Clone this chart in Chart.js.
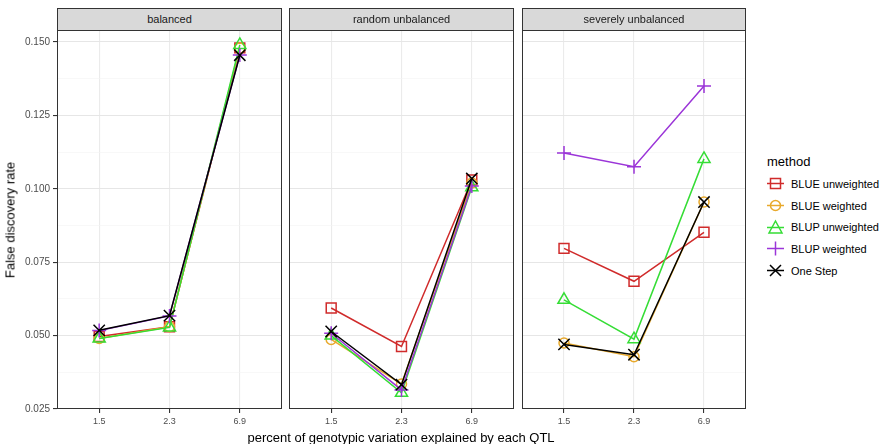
<!DOCTYPE html>
<html>
<head>
<meta charset="utf-8">
<script src="https://cdn.jsdelivr.net/npm/chart.js@4"></script>
<style>
  body { margin: 0; background: #fff; font-family: "Liberation Sans", Arial, sans-serif; }
  #wrap { position: relative; width: 888px; height: 444px; overflow: hidden; background: #fff; }
  canvas { position: absolute; top: 0; }
  .strip { position: absolute; top: 8px; height: 21px; background: #d9d9d9; border: 1px solid #333;
           font-size: 11px; color: #1a1a1a; text-align: center; line-height: 21px; box-sizing: content-box; }
  .ytitle { position: absolute; left: 10px; top: 220px; transform: translate(-50%, -50%) rotate(-90deg);
            font-size: 13px; color: #000; white-space: nowrap; }
  .xtitle { position: absolute; left: 401px; top: 437px; transform: translate(-50%, -50%);
            font-size: 13px; color: #000; white-space: nowrap; }
  #legend { position: absolute; left: 767px; top: 154px; }
  #legend .head { font-size: 13px; margin-bottom: 4px; }
  #legend .item { display: flex; align-items: center; height: 21.7px; font-size: 11px; color: #000; }
  #legend svg { margin-right: 7px; }
</style>
</head>
<body>
<div id="wrap">
  <canvas id="p0"></canvas>
  <canvas id="p1"></canvas>
  <canvas id="p2"></canvas>
  <div class="ytitle">False discovery rate</div>
  <div class="xtitle">percent of genotypic variation explained by each QTL</div>
  <div id="legend"><div class="head">method</div></div>
</div>
<script>
// Datos
const levels = ['1.5', '2.3', '6.9'];
const panels = ['balanced', 'random unbalanced', 'severely unbalanced'];
const methods = ['BLUE unweighted', 'BLUE weighted', 'BLUP unweighted', 'BLUP weighted', 'One Step'];

// un array por método: [balanced, random unbalanced, severely unbalanced]
const blueUnweighted = [[0.0497, 0.0530, 0.1480], [0.0594, 0.0463, 0.1030], [0.0797, 0.0685, 0.0852]];
const blueWeighted   = [[0.0490, 0.0530, 0.1480], [0.0487, 0.0335, 0.1020], [0.0475, 0.0428, 0.0955]];
const blupUnweighted = [[0.0490, 0.0528, 0.1490], [0.0500, 0.0305, 0.1005], [0.0622, 0.0488, 0.1102]];
const blupWeighted   = [[0.0517, 0.0567, 0.1456], [0.0508, 0.0315, 0.1010], [0.1122, 0.1075, 0.1350]];
const oneStep        = [[0.0518, 0.0568, 0.1455], [0.0514, 0.0333, 0.1035], [0.0470, 0.0435, 0.0955]];

const yTicks = [0.025, 0.0375, 0.05, 0.0625, 0.075, 0.0875, 0.1, 0.1125, 0.125, 0.1375, 0.15];

const series = [blueUnweighted, blueWeighted, blupUnweighted, blupWeighted, oneStep];
const colors = ['#d02b2b', '#e8a92c', '#35dd35', '#9b35d8', '#000000'];
const shapes = ['rect', 'circle', 'triangle', 'cross', 'crossRot'];
const radii = [7, 5, 7, 7, 8];

// Geometría de los paneles (canvas y área de trazado)
const layout = [
    { left: 0,   width: 286, plotLeft: 57,  plotRight: 282 },
    { left: 286, width: 232, plotLeft: 289, plotRight: 514 },
    { left: 518, width: 232, plotLeft: 522, plotRight: 746 }
];
const PLOT_TOP = 30, PLOT_BOTTOM = 409, H = 444;

const borderPlugin = {
    id: 'panelBorder',
    afterDraw(chart) {
        const a = chart.chartArea, ctx = chart.ctx;
        ctx.save();
        ctx.strokeStyle = '#333';
        ctx.lineWidth = 1;
        ctx.strokeRect(Math.round(a.left) + 0.5, Math.round(a.top) + 0.5,
                       Math.round(a.right - a.left) - 1, Math.round(a.bottom - a.top) - 1);
        ctx.restore();
    }
};

panels.forEach((name, p) => {
    const L = layout[p];
    const canvas = document.getElementById('p' + p);
    canvas.width = L.width;
    canvas.height = H;
    canvas.style.left = L.left + 'px';
    canvas.style.width = L.width + 'px';
    canvas.style.height = H + 'px';

    const strip = document.createElement('div');
    strip.className = 'strip';
    strip.style.left = L.plotLeft + 'px';
    strip.style.width = (L.plotRight - L.plotLeft - 2) + 'px';
    strip.textContent = name;
    document.getElementById('wrap').appendChild(strip);

    const yAxisW = L.plotLeft - L.left;
    const datasets = series.map((s, m) => ({
        label: methods[m],
        data: s[p].map((v, i) => ({ x: i, y: v })),
        borderColor: colors[m],
        backgroundColor: 'rgba(0,0,0,0)',
        borderWidth: 1.5,
        pointStyle: shapes[m],
        pointRadius: radii[m],
        pointBorderWidth: 1.5,
        pointBorderColor: colors[m],
        pointBackgroundColor: 'rgba(0,0,0,0)',
        tension: 0,
        order: 4 - m,
        clip: false
    }));

    new Chart(canvas, {
        type: 'line',
        data: { datasets },
        options: {
            responsive: false,
            animation: false,
            devicePixelRatio: 1,
            layout: {
                autoPadding: false,
                padding: { top: PLOT_TOP, left: p === 0 ? 0 : yAxisW, right: L.left + L.width - L.plotRight, bottom: 0 }
            },
            plugins: { legend: { display: false }, tooltip: { enabled: false } },
            scales: {
                x: {
                    type: 'linear', min: -0.6, max: 2.6,
                    afterBuildTicks: s => { s.ticks = levels.map((_, i) => ({ value: i })); },
                    afterFit: s => { s.height = H - PLOT_BOTTOM; s.paddingLeft = 0; s.paddingRight = 0; },
                    border: { display: false },
                    grid: { color: '#ebebeb', lineWidth: 1.1, tickLength: 4, tickColor: '#333' },
                    ticks: { padding: 3, font: { family: 'Liberation Sans', size: 9 }, color: '#4d4d4d',
                             maxRotation: 0, callback: v => levels[v] }
                },
                y: {
                    type: 'linear', min: 0.025, max: 0.1541,
                    afterBuildTicks: s => { s.ticks = yTicks.map(v => ({ value: v })); },
                    afterFit: s => { s.width = p === 0 ? yAxisW : 0; s.paddingTop = 0; s.paddingBottom = 0; },
                    border: { display: false },
                    grid: {
                        color: c => c.index % 2 === 0 ? '#e6e6e6' : '#f3f3f3',
                        lineWidth: c => c.index % 2 === 0 ? 1.1 : 0.6,
                        drawTicks: p === 0,
                        tickLength: 4,
                        tickColor: c => c.index % 2 === 0 ? '#333' : 'rgba(0,0,0,0)'
                    },
                    ticks: {
                        display: p === 0, padding: 3,
                        font: { family: 'Liberation Sans', size: 10 }, color: '#4d4d4d',
                        callback: (v, i) => i % 2 === 0 ? v.toFixed(3) : ''
                    }
                }
            }
        },
        plugins: [borderPlugin]
    });
});
</script>
<script>
// Leyenda HTML
const legend = document.getElementById('legend');
methods.forEach((m, i) => {
    const c = colors[i];
    let shape = '';
    if (shapes[i] === 'rect') shape = `<rect x="3.5" y="3.5" width="10" height="10" fill="none" stroke="${c}" stroke-width="1.5"/>`;
    if (shapes[i] === 'circle') shape = `<circle cx="8.5" cy="8.5" r="5" fill="none" stroke="${c}" stroke-width="1.5"/>`;
    if (shapes[i] === 'triangle') shape = `<polygon points="8.5,2 15,14 2,14" fill="none" stroke="${c}" stroke-width="1.5"/>`;
    if (shapes[i] === 'cross') shape = `<path d="M8.5 1.5V15.5" stroke="${c}" stroke-width="1.5"/>`;
    if (shapes[i] === 'crossRot') shape = `<path d="M3 3L14 14M14 3L3 14" stroke="${c}" stroke-width="1.5"/>`;
    const item = document.createElement('div');
    item.className = 'item';
    item.innerHTML = `<svg width="17" height="17"><path d="M0 8.5H17" stroke="${c}" stroke-width="1.5"/>${shape}</svg>${m}`;
    legend.appendChild(item);
});
</script>
</body>
</html>
